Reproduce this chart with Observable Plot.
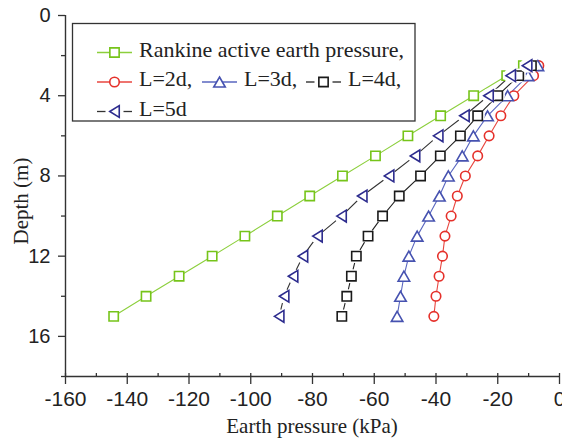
<!DOCTYPE html>
<html>
<head>
<meta charset="utf-8">
<script src="https://cdn.jsdelivr.net/npm/d3@7"></script>
<script src="https://cdn.jsdelivr.net/npm/@observablehq/plot@0.6"></script>
<style>
  html, body { margin: 0; padding: 0; background: #fff; }
  #chart { width: 562px; height: 441px; overflow: hidden; }
</style>
</head>
<body>
<div id="chart"></div>
<script>
// Depth of each measuring point (m)
const depth = [2.5, 3, 4, 5, 6, 7, 8, 9, 10, 11, 12, 13, 14, 15];

// Earth pressure (kPa) at each depth
const rankine = [-11.7, -17.1, -27.8, -38.5, -49.1, -59.6, -70.3, -80.9, -91.4, -101.9, -112.5, -123.2, -133.9, -144.4];
const l2d = [-6.7, -8.4, -14.8, -19.0, -22.8, -26.5, -30.5, -33.1, -35.1, -37.1, -37.9, -39.0, -40.0, -40.7];
const l3d = [-7.0, -10.2, -16.8, -23.3, -27.9, -31.5, -36.0, -38.9, -42.4, -46.1, -48.8, -50.4, -51.5, -52.6];
const l4d = [-9.1, -13.2, -20.0, -26.5, -32.1, -38.6, -45.0, -51.9, -57.3, -62.0, -65.8, -67.4, -68.9, -70.5];
const l5d = [-10.5, -15.8, -23.0, -30.8, -39.3, -46.8, -55.2, -63.9, -70.6, -78.4, -83.1, -86.3, -89.2, -90.8];

const seriesNames = ["Rankine active earth pressure,", "L=2d,", "L=3d,", "L=4d,", "L=5d"];
const xTitle = "Earth pressure (kPa)";
const yTitle = "Depth (m)";

// Axis ticks
const xTicks = [-160, -140, -120, -100, -80, -60, -40, -20, 0];
const xMinor = [-160, -150, -140, -130, -120, -110, -100, -90, -80, -70, -60, -50, -40, -30, -20, -10, 0];
const yTicks = [0, 4, 8, 12, 16];
const yMinor = [2, 6, 10, 14, 18];

const SERIF = "'Liberation Serif', 'Times New Roman', serif";
const SANS = "'Liberation Sans', Arial, sans-serif";

// Marker shapes (sized from the dot radius)
const squareSym = {draw(ctx, size) {
  const r = Math.sqrt(size / Math.PI), h = r * 0.93;
  ctx.moveTo(-h, -h); ctx.lineTo(h, -h); ctx.lineTo(h, h); ctx.lineTo(-h, h); ctx.closePath();
}};
const circleSym = {draw(ctx, size) {
  const r = Math.sqrt(size / Math.PI) * 0.95;
  ctx.moveTo(r, 0); ctx.arc(0, 0, r, 0, 2 * Math.PI);
}};
const upTriSym = {draw(ctx, size) {
  const r = Math.sqrt(size / Math.PI), w = r * 1.15, h = r * 1.0;
  ctx.moveTo(0, -h); ctx.lineTo(w, h); ctx.lineTo(-w, h); ctx.closePath();
}};
const leftTriSym = {draw(ctx, size) {
  const r = Math.sqrt(size / Math.PI), w = r * 0.95, h = r * 1.18;
  ctx.moveTo(-w, 0); ctx.lineTo(w, -h); ctx.lineTo(w, h); ctx.closePath();
}};

const styles = [
  {values: rankine, marker: "#76c41a", line: "#8ccf3c", sym: squareSym, gap: false},
  {values: l2d, marker: "#e5302a", line: "#e8463f", sym: circleSym, gap: false},
  {values: l3d, marker: "#4652b0", line: "#5966bf", sym: upTriSym, gap: false},
  {values: l4d, marker: "#1a1a1a", line: "#222222", sym: squareSym, gap: true},
  {values: l5d, marker: "#2d2c8e", line: "#333333", sym: leftTriSym, gap: true}
];

const series = styles.map((s, i) => ({
  ...s,
  name: seriesNames[i],
  data: depth.map((d, j) => ({depth: d, pressure: s.values[j]}))
}));

const R = 5;
const marks = [];
// connecting lines
for (const s of series) {
  marks.push(Plot.line(s.data, {x: "pressure", y: "depth", stroke: s.line, strokeWidth: 1.1}));
}
// markers (dashed-looking series get a white gap round each marker)
for (const s of series) {
  if (s.gap) {
    marks.push(Plot.dot(s.data, {x: "pressure", y: "depth", r: R + 2.2, symbol: "circle", fill: "white", stroke: "none"}));
  }
  marks.push(Plot.dot(s.data, {x: "pressure", y: "depth", r: R, symbol: s.sym, fill: "white", stroke: s.marker, strokeWidth: 1.6}));
}

const plot = Plot.plot({
  width: 562,
  height: 441,
  marginLeft: 65,
  marginRight: 3,
  marginTop: 15,
  marginBottom: 65,
  style: {background: "white", fontFamily: SANS, overflow: "visible", color: "#222"},
  x: {domain: [-160, 0]},
  y: {domain: [0, 18], reverse: true},
  marks: [
    ...marks,
    Plot.axisX({ticks: xTicks, tickSize: 8, tickPadding: 7, fontSize: 21, fontFamily: SANS, tickFormat: d => String(d), label: null, stroke: "#333", strokeWidth: 1.3, fill: "#222"}),
    Plot.axisX({ticks: xMinor, tickSize: -3, tickFormat: () => "", label: null, stroke: "#333", strokeWidth: 1.3}),
    Plot.axisY({ticks: yTicks, tickSize: 7, tickPadding: 8, fontSize: 20, fontFamily: SANS, tickFormat: d => String(d), label: null, stroke: "#333", strokeWidth: 1.3, fill: "#222"}),
    Plot.axisY({ticks: yMinor, tickSize: 4, tickFormat: () => "", label: null, stroke: "#333", strokeWidth: 1.3}),
    Plot.ruleX([-160], {stroke: "#333", strokeWidth: 1.4}),
    Plot.ruleY([18], {stroke: "#333", strokeWidth: 1.4})
  ]
});

const svg = d3.select(plot);

// Axis titles
svg.append("text").attr("x", 312).attr("y", 433)
  .attr("text-anchor", "middle").attr("font-family", SERIF).attr("font-size", 21).attr("fill", "#222")
  .text(xTitle);
svg.append("text").attr("transform", "translate(27.5,201) rotate(-90)")
  .attr("text-anchor", "middle").attr("font-family", SERIF).attr("font-size", 21).attr("fill", "#222")
  .text(yTitle);

// Legend box inside the plot area
const lg = svg.append("g").attr("class", "legend").attr("text-anchor", "start");
lg.append("rect").attr("x", 72.5).attr("y", 23.5).attr("width", 342.5).attr("height", 97.5)
  .attr("fill", "white").attr("stroke", "#333").attr("stroke-width", 1.3);

const legendRows = [
  {i: 0, x: 97, y: 56.5},
  {i: 1, x: 97, y: 86},
  {i: 2, x: 202, y: 86},
  {i: 3, x: 306, y: 86},
  {i: 4, x: 97, y: 115.5}
];
for (const row of legendRows) {
  const s = series[row.i];
  const cy = row.y - 4;
  const cx = row.x + 17.5;
  if (s.gap) {
    lg.append("line").attr("x1", row.x).attr("x2", cx - 9).attr("y1", cy).attr("y2", cy)
      .attr("stroke", s.line).attr("stroke-width", 1.3);
    lg.append("line").attr("x1", cx + 9).attr("x2", row.x + 35).attr("y1", cy).attr("y2", cy)
      .attr("stroke", s.line).attr("stroke-width", 1.3);
  } else {
    lg.append("line").attr("x1", row.x).attr("x2", row.x + 35).attr("y1", cy).attr("y2", cy)
      .attr("stroke", s.line).attr("stroke-width", 1.3);
  }
  lg.append("path").attr("transform", `translate(${cx},${cy})`)
    .attr("d", d3.symbol().type(s.sym).size(Math.PI * R * R)())
    .attr("fill", "white").attr("stroke", s.marker).attr("stroke-width", 1.6);
  lg.append("text").attr("x", row.x + 42).attr("y", row.y)
    .attr("text-anchor", "start")
    .attr("font-family", SERIF)
    .attr("font-size", 22).attr("fill", "#222")
    .text(s.name);
}

document.getElementById("chart").appendChild(plot);
</script>
</body>
</html>
